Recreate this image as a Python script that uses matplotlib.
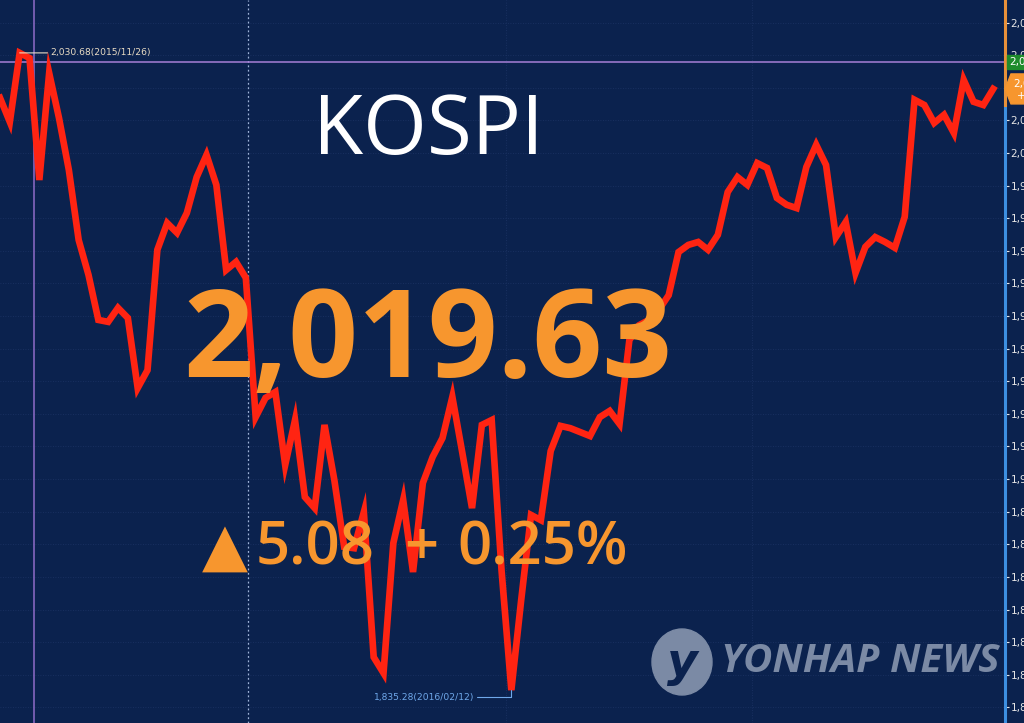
import matplotlib
matplotlib.use("Agg")
import matplotlib.pyplot as plt
from matplotlib.lines import Line2D
from matplotlib.patches import Ellipse, Polygon

# KOSPI daily closes, 2015/11 .. 2016/04
closes = [
    2016.9, 2009.5, 2030.68, 2029.1, 1991.7, 2024.5, 2010.7, 1994.8, 1973.3, 1962.6,
    1948.8, 1948.2, 1952.5, 1949.4, 1927.9, 1933.4, 1970.3, 1978.5, 1975.5, 1981.6,
    1992.6, 1999.4, 1990.2, 1964.1, 1966.6, 1961.7, 1919.0, 1924.9, 1926.7, 1904.3,
    1918.1, 1894.5, 1891.1, 1916.6, 1899.7, 1879.2, 1878.8, 1889.9, 1845.4, 1840.5,
    1880.4, 1893.6, 1871.5, 1898.8, 1906.8, 1912.6, 1925.2, 1908.3, 1891.1, 1916.6,
    1918.1, 1872.1, 1835.28, 1862.9, 1889.0, 1887.4, 1908.6, 1916.3, 1915.6, 1914.4,
    1913.2, 1919.0, 1920.9, 1916.9, 1942.6, 1947.2, 1948.8, 1951.9, 1956.4, 1969.6,
    1971.8, 1972.7, 1970.3, 1974.9, 1988.0, 1992.6, 1990.2, 1996.9, 1995.4, 1986.2,
    1984.1, 1983.1, 1995.7, 2002.5, 1996.3, 1974.2, 1978.8, 1963.2, 1971.2, 1974.2,
    1972.7, 1970.9, 1980.4, 2016.3, 2014.7, 2009.2, 2011.7, 2006.1, 2022.4, 2015.7,
    2014.7, 2019.63,
]
high_label = "2,030.68(2015/11/26)"
low_label = "1,835.28(2016/02/12)"
index_name = "KOSPI"
last_value = "2,019.63"
change_parts = ["▲", "5.08", "+", "0.25%"]
y_ticks = list(range(1830, 2050, 10))

BG = "#0b224e"
RED = "#ff2412"
ORANGE = "#f7962e"

fig = plt.figure(figsize=(10.24, 7.23), dpi=100, facecolor=BG)
ax = fig.add_axes([0, 0, 1005 / 1024, 1], facecolor=BG)

x = list(range(len(closes)))
ax.set_xlim(0, 102.2)
ax.set_ylim(1825.2, 2046.9)

# faint dotted grid
for v in y_ticks:
    ax.axhline(v, color="#1d3466", lw=0.6, ls=(0, (1, 2)), zorder=0)
for xv in (51.5, 76.5):
    ax.axvline(xv, color="#1d3466", lw=0.6, ls=(0, (1, 2)), zorder=0)
ax.axvline(25.2, color="#9fb3d8", lw=0.9, ls=(0, (1.5, 2)), zorder=1)

# crosshair
ax.axhline(2027.9, color="#a77fd6", lw=1.1, zorder=1)
ax.axvline(3.45, color="#8e6cc8", lw=1.1, zorder=1)

ax.plot(x, closes, color=RED, lw=4.8, solid_joinstyle="miter", zorder=3)

# high / low annotations
ihi = closes.index(max(closes))
ilo = closes.index(min(closes))
ax.annotate(high_label, xy=(ihi, closes[ihi]), xytext=(22, 0), textcoords="offset points",
            color="#e9dcc4", fontsize=6.6, va="center", ha="left",
            arrowprops=dict(arrowstyle="-", color="#e9dcc4", lw=0.8,
                            shrinkA=0, shrinkB=0), zorder=4)
ax.annotate(low_label, xy=(ilo, closes[ilo]), xytext=(-27, -5), textcoords="offset points",
            color="#6fa8ea", fontsize=6.6, va="center", ha="right",
            arrowprops=dict(arrowstyle="-", color="#6fa8ea", lw=0.8,
                            connectionstyle="angle,angleA=0,angleB=90,rad=0",
                            shrinkA=0, shrinkB=0), zorder=4)

# big headline texts
fig.text(0.418, 0.816, index_name, color="white", fontsize=59, family="Open Sans",
         ha="center", va="center")
fig.text(0.418, 0.523, last_value, color=ORANGE, fontsize=88, family="Open Sans",
         weight="bold", ha="center", va="center", zorder=5)
# change line, spread out like the original's letter spacing
part_x = [225, 315, 421, 543]
for txt, px in zip(change_parts, part_x):
    fig.text(px / 1024, 1 - 549 / 723, txt, color=ORANGE, fontsize=43,
             family=["Open Sans", "DejaVu Sans"], weight="semibold",
             ha="center", va="center", zorder=5)

# watermark
fig.patches.append(Ellipse((682 / 1024, 1 - 662 / 723), 60 / 1024, 66 / 723,
                           transform=fig.transFigure, color="#7b8aa5", zorder=6))
fig.text(682 / 1024, 1 - 664 / 723, "y", color=BG, fontsize=34, style="italic",
         weight="bold", ha="center", va="center", zorder=7)
fig.text(860 / 1024, 1 - 662 / 723, "YONHAP NEWS", color="#7b8aa5", fontsize=29,
         family="Open Sans", weight="bold", style="italic", ha="center", va="center",
         zorder=7)

# right axis
for s in ax.spines.values():
    s.set_visible(False)
ax.set_xticks([])
ax.yaxis.tick_right()
ax.set_yticks(y_ticks)
ax.set_yticklabels([f"{v:,}" for v in y_ticks])
ax.tick_params(axis="y", colors="#e6e6e6", labelsize=7.5, length=3, width=0.8, pad=1)

xr = 1005 / 1024
fig.add_artist(Line2D([xr, xr], [0, 1 - 105 / 723], color="#3d8fe0", lw=2.2))
fig.add_artist(Line2D([xr, xr], [1 - 105 / 723, 1], color="#e8913a", lw=2.2))

# last-value and reference markers on the axis
yv = ax.transData.transform((0, closes[-1]))[1] / fig.bbox.height
fig.patches.append(Polygon([(xr, yv), (xr + 6 / 1024, yv + 15 / 723), (1, yv + 15 / 723),
                            (1, yv - 15 / 723), (xr + 6 / 1024, yv - 15 / 723)],
                           closed=True, transform=fig.transFigure, color=ORANGE, zorder=8))
fig.text(xr + 8 / 1024, yv + 5 / 723, "2,0", color="white", fontsize=7.5, va="center",
         ha="left", zorder=9)
fig.text(xr + 12 / 1024, yv - 7 / 723, "+", color="white", fontsize=7.5, va="center",
         ha="left", zorder=9)
yg = ax.transData.transform((0, 2027.9))[1] / fig.bbox.height
fig.patches.append(plt.Rectangle((xr + 2 / 1024, yg - 7 / 723), 20 / 1024, 14 / 723,
                                 transform=fig.transFigure, color="#1e8c2c", zorder=8))
fig.text(xr + 4 / 1024, yg, "2,0", color="white", fontsize=7.5, va="center", ha="left",
         zorder=9)

fig.savefig("out.png", dpi=100, facecolor=BG)
